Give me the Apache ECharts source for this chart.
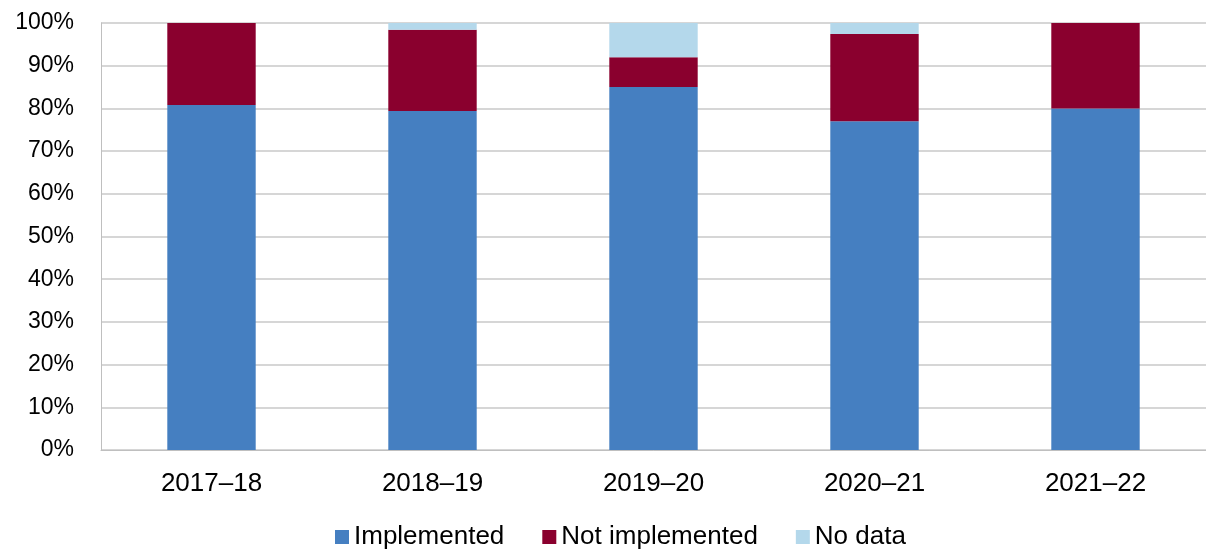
<!DOCTYPE html>
<html>
<head>
<meta charset="utf-8">
<script src="https://cdn.jsdelivr.net/npm/echarts@6/dist/echarts.min.js"></script>
<style>
  html, body { margin: 0; padding: 0; background: #fff; }
  #chart { width: 1206px; height: 549px; }
</style>
</head>
<body>
<div id="chart"></div>
<script>
// Financial years on the category axis
const years = ['2017\u201318', '2018\u201319', '2019\u201320', '2020\u201321', '2021\u201322'];
// Share of recommendations in each status (percent)
const implemented = [80.8, 79.4, 85.0, 77.0, 80.0];
const notImplemented = [19.2, 19.0, 7.0, 20.4, 20.0];
const noData = [0, 1.6, 8.0, 2.6, 0];

const font = 'Liberation Sans, Arial, sans-serif';
const chart = echarts.init(document.getElementById('chart'), null, { renderer: 'canvas' });

function barSeries(name, data, color) {
  return {
    name: name,
    type: 'bar',
    stack: 'total',
    barWidth: '40%',
    data: data,
    itemStyle: { color: color },
    emphasis: { disabled: true }
  };
}

chart.setOption({
  animation: false,
  grid: { left: 101, right: 0, top: 23, bottom: 99, containLabel: false },
  legend: {
    top: 519,
    left: 330,
    itemWidth: 14,
    itemHeight: 14,
    itemGap: 38,
    icon: 'rect',
    textStyle: { fontFamily: font, fontSize: 26, color: '#000' },
    data: ['Implemented', 'Not implemented', 'No data']
  },
  xAxis: {
    type: 'category',
    data: years,
    axisLine: { show: true, lineStyle: { color: '#bfbfbf', width: 1 } },
    axisTick: { show: false },
    axisLabel: { fontFamily: font, fontSize: 26, color: '#000', margin: 21 }
  },
  yAxis: {
    type: 'value',
    min: 0,
    max: 100,
    interval: 10,
    axisLine: { show: true, lineStyle: { color: '#bfbfbf', width: 1 } },
    axisTick: { show: false },
    splitLine: { lineStyle: { color: '#c8c8c8', width: 1.5 } },
    axisLabel: {
      fontFamily: font, fontSize: 23, color: '#000', margin: 27,
      formatter: v => v + '%'
    }
  },
  series: [
    barSeries('Implemented', implemented, '#457fc1'),
    barSeries('Not implemented', notImplemented, '#8a002e'),
    barSeries('No data', noData, '#b4d8eb')
  ]
});
</script>
</body>
</html>
